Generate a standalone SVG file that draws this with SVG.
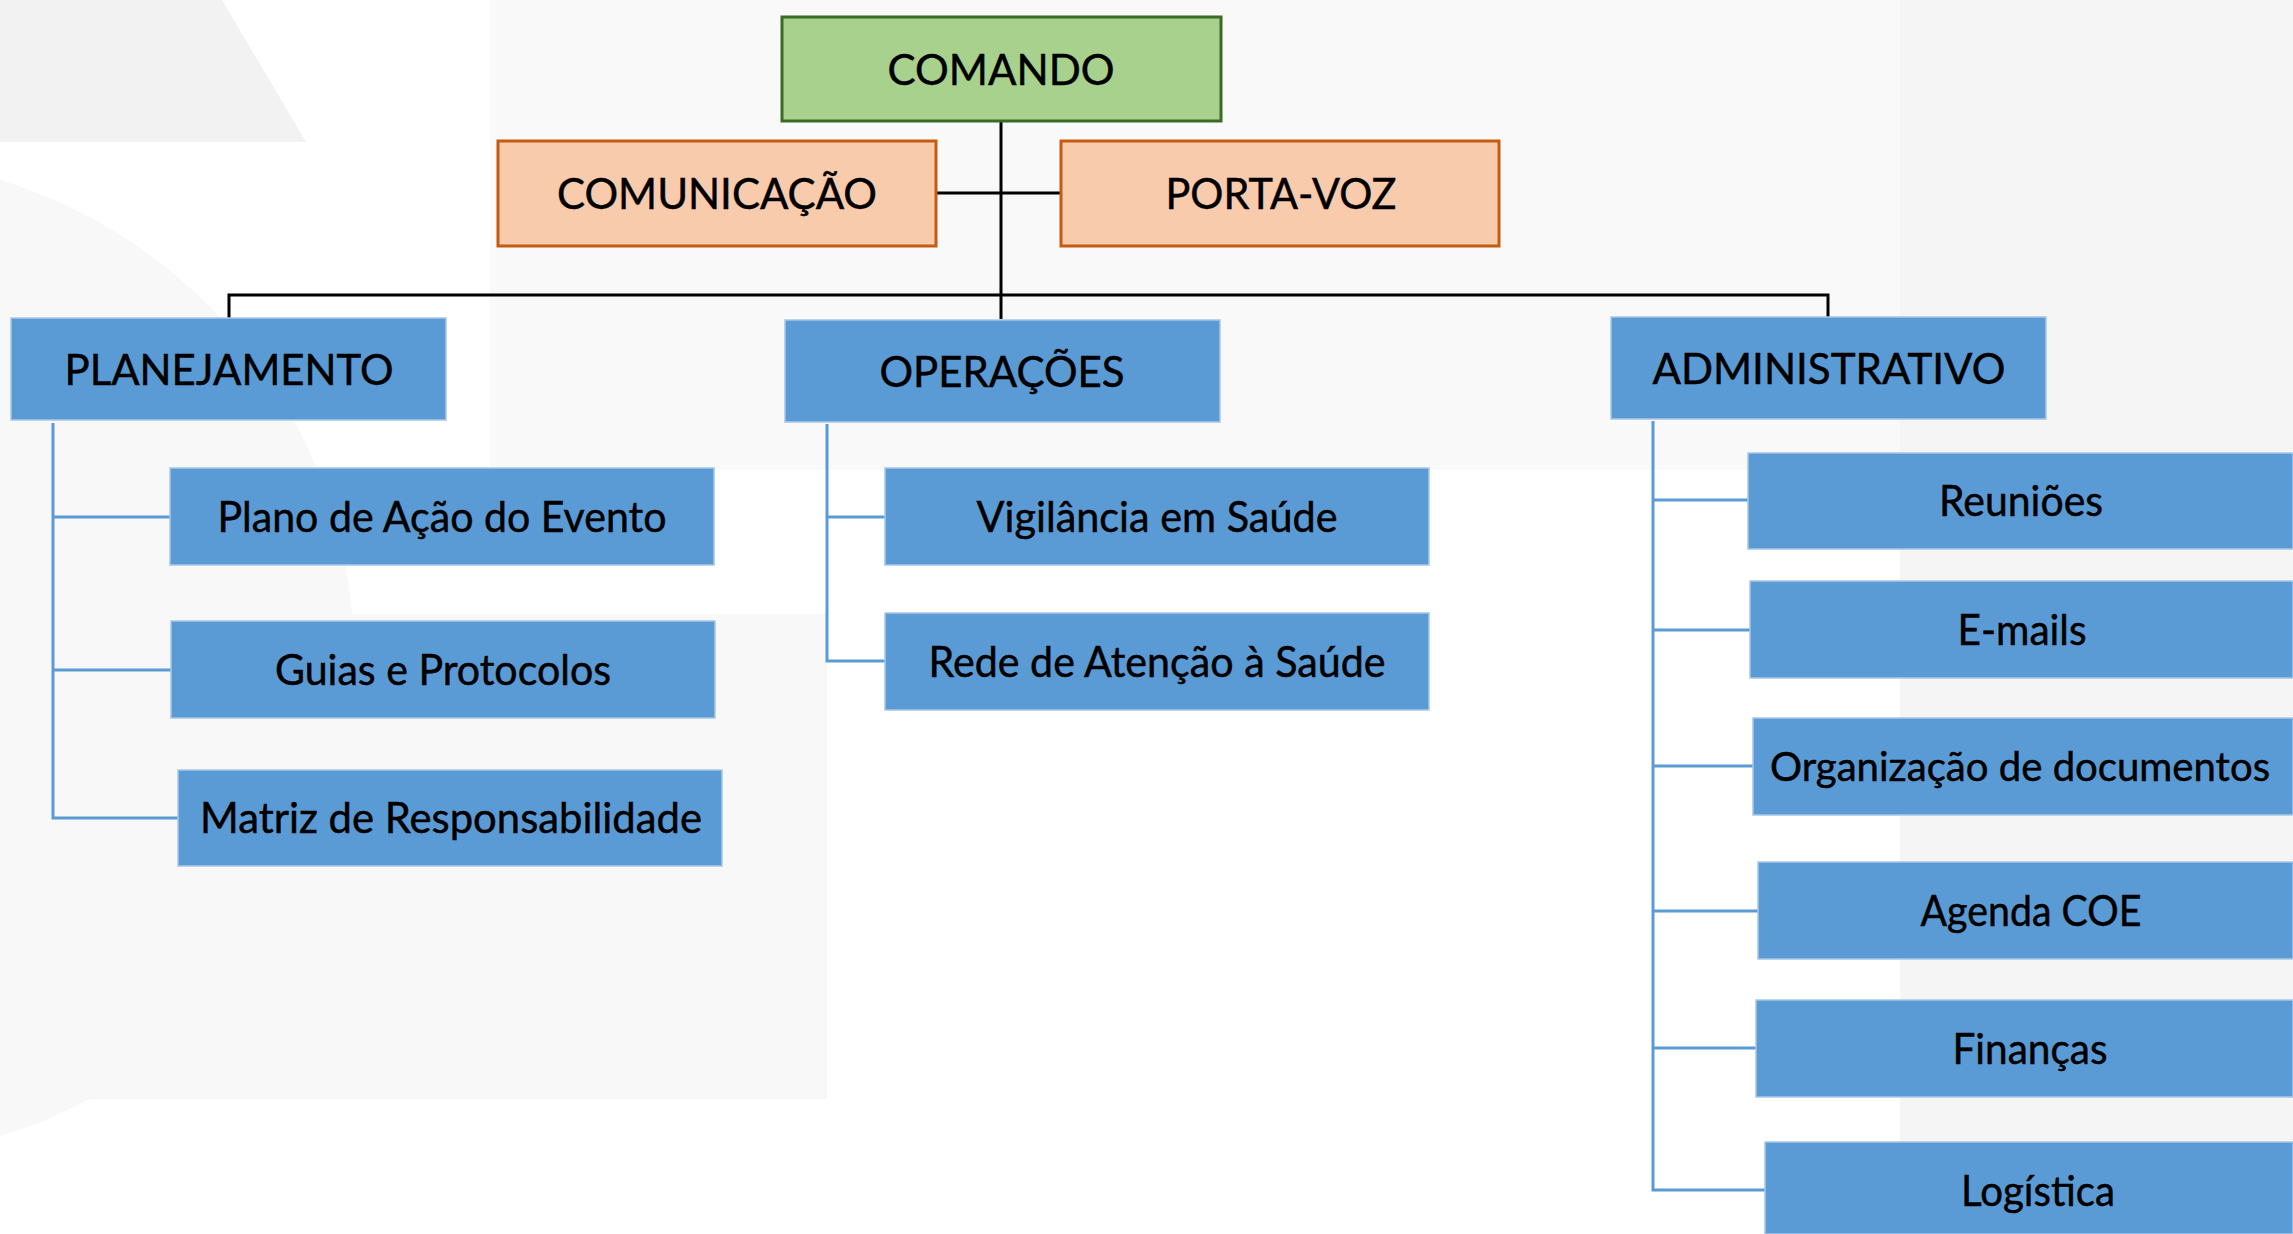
<svg xmlns="http://www.w3.org/2000/svg" width="2293" height="1234" viewBox="0 0 2293 1234">
<style>
.lbl{font-family:"Lato","Liberation Sans",sans-serif;font-size:43px;fill:#000;stroke:#000;stroke-width:0.5;text-anchor:middle}
.blue{fill:#5b9bd5;stroke:#a8c7e6;stroke-width:1.5}
.orange{fill:#f8cbad;stroke:#c55a11;stroke-width:3}
.green{fill:#a9d18e;stroke:#3b6b25;stroke-width:3}
.blk{fill:none;stroke:#000;stroke-width:3}
.bl{fill:none;stroke:#5b9bd5;stroke-width:3}
</style>
<rect width="2293" height="1234" fill="#ffffff"/>
<g id="background">
<rect x="490" y="0" width="1803" height="470" fill="#f9f9f9"/>
<polygon points="0,0 222,0 306,142 0,142" fill="#f2f2f2"/>
<circle cx="-146" cy="658" r="500" fill="#f8f8f8"/>
<rect x="5" y="614" width="822" height="485" fill="#f8f8f8"/>
<rect x="1900" y="0" width="393" height="1234" fill="#f5f5f5"/>
</g>
<g id="connectors">
<path class="blk" d="M1001,121 V319"/>
<path class="blk" d="M936,193 H1061"/>
<path class="blk" d="M229,318 V295 H1828 V317"/>
<path class="bl" d="M53,423 V818 H178 M53,517 H170 M53,670 H171"/>
<path class="bl" d="M827,424 V661 H885 M827,517 H885"/>
<path class="bl" d="M1653,421 V1190 H1765 M1653,500 H1748 M1653,630 H1750 M1653,766 H1753 M1653,911 H1758 M1653,1048 H1756"/>
</g>
<g id="comando"><rect class="green" x="782" y="17" width="439" height="104"/><text class="lbl" x="1001" y="85" textLength="227" lengthAdjust="spacingAndGlyphs">COMANDO</text></g>
<g id="comunicacao"><rect class="orange" x="498" y="141" width="438" height="105"/><text class="lbl" x="717" y="209" textLength="320" lengthAdjust="spacingAndGlyphs">COMUNICAÇÃO</text></g>
<g id="portavoz"><rect class="orange" x="1061" y="141" width="438" height="105"/><text class="lbl" x="1281" y="209" textLength="231" lengthAdjust="spacingAndGlyphs">PORTA-VOZ</text></g>
<g id="planejamento"><rect class="blue" x="11" y="318" width="435" height="102"/><text class="lbl" x="229" y="385" textLength="329" lengthAdjust="spacingAndGlyphs">PLANEJAMENTO</text></g>
<g id="operacoes"><rect class="blue" x="785" y="320" width="435" height="102"/><text class="lbl" x="1002" y="387" textLength="245" lengthAdjust="spacingAndGlyphs">OPERAÇÕES</text></g>
<g id="administrativo"><rect class="blue" x="1611" y="317" width="435" height="102"/><text class="lbl" x="1829" y="384" textLength="353" lengthAdjust="spacingAndGlyphs">ADMINISTRATIVO</text></g>
<g id="plano"><rect class="blue" x="170" y="468" width="544" height="97"/><text class="lbl" x="442" y="532" textLength="449" lengthAdjust="spacingAndGlyphs">Plano de Ação do Evento</text></g>
<g id="guias"><rect class="blue" x="171" y="621" width="544" height="97"/><text class="lbl" x="443" y="685" textLength="336" lengthAdjust="spacingAndGlyphs">Guias e Protocolos</text></g>
<g id="matriz"><rect class="blue" x="178" y="770" width="544" height="96"/><text class="lbl" x="451" y="833" textLength="502" lengthAdjust="spacingAndGlyphs">Matriz de Responsabilidade</text></g>
<g id="vigilancia"><rect class="blue" x="885" y="468" width="544" height="97"/><text class="lbl" x="1157" y="532" textLength="361" lengthAdjust="spacingAndGlyphs">Vigilância em Saúde</text></g>
<g id="rede"><rect class="blue" x="885" y="613" width="544" height="97"/><text class="lbl" x="1157" y="677" textLength="457" lengthAdjust="spacingAndGlyphs">Rede de Atenção à Saúde</text></g>
<g id="reunioes"><rect class="blue" x="1748" y="453" width="545" height="96"/><text class="lbl" x="2021" y="516" textLength="164" lengthAdjust="spacingAndGlyphs">Reuniões</text></g>
<g id="emails"><rect class="blue" x="1750" y="581" width="543" height="97"/><text class="lbl" x="2022" y="645" textLength="129" lengthAdjust="spacingAndGlyphs">E-mails</text></g>
<g id="organizacao"><rect class="blue" x="1753" y="718" width="540" height="97"/><text class="lbl" x="2020" y="781" style="font-size:41px" textLength="500" lengthAdjust="spacingAndGlyphs">Organização de documentos</text></g>
<g id="agenda"><rect class="blue" x="1758" y="862" width="535" height="97"/><text class="lbl" x="2031" y="926" textLength="221" lengthAdjust="spacingAndGlyphs">Agenda COE</text></g>
<g id="financas"><rect class="blue" x="1756" y="1000" width="537" height="97"/><text class="lbl" x="2030" y="1064" textLength="155" lengthAdjust="spacingAndGlyphs">Finanças</text></g>
<g id="logistica"><rect class="blue" x="1765" y="1142" width="528" height="92"/><text class="lbl" x="2038" y="1206" textLength="154" lengthAdjust="spacingAndGlyphs">Logística</text></g>
</svg>
